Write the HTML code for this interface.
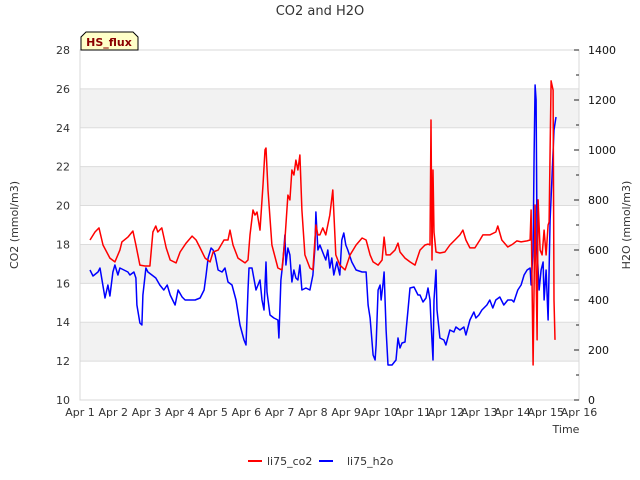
<!DOCTYPE html>
<html><head><meta charset="utf-8"><style>
body{margin:0;background:#fff;}
svg{display:block;font-family:"DejaVu Sans","Liberation Sans",sans-serif;}
</style></head><body>
<svg id="chart" width="640" height="480" xmlns="http://www.w3.org/2000/svg">
<g id="bands"></g>
<g id="grid"></g>
<rect x="80" y="50" width="499" height="350" fill="none" stroke="#d8d8d8" stroke-width="1"/>
<g id="series"></g>
<g id="axes"></g>
<text x="320" y="15" text-anchor="middle" font-size="13" fill="#333">CO2 and H2O</text>
<g>
<path d="M81,50 L81,37 L86,32 L133,32 L138,37 L138,50 Z" fill="#ffffc8" stroke="#000" stroke-width="1"/>
<text x="109" y="46" text-anchor="middle" font-size="11" font-weight="bold" fill="#8b0000">HS_flux</text>
</g>
<text transform="translate(18,225) rotate(-90)" text-anchor="middle" font-size="11" fill="#333">CO2 (mmol/m3)</text>
<text transform="translate(630,225) rotate(-90)" text-anchor="middle" font-size="11" fill="#333">H2O (mmol/m3)</text>
<text x="566" y="433" text-anchor="middle" font-size="11" fill="#333">Time</text>
<g>
<g><line x1="248" y1="461" x2="262" y2="461" stroke="#f00" stroke-width="2"/><text x="267" y="465" font-size="11" fill="#333">li75_co2</text></g>
<g><line x1="319" y1="461" x2="333" y2="461" stroke="#00f" stroke-width="2"/><text x="347" y="465" font-size="11" fill="#333">li75_h2o</text></g>
</g>
</svg>
<script>
const xTickLabels=["Apr 1","Apr 2","Apr 3","Apr 4","Apr 5","Apr 6","Apr 7","Apr 8","Apr 9","Apr 10","Apr 11","Apr 12","Apr 13","Apr 14","Apr 15","Apr 16"];
const leftTicks=[10,12,14,16,18,20,22,24,26,28];
const rightTicks=[0,200,400,600,800,1000,1200,1400];
const co2Time=[.30,.45,.57,.69,.90,1.05,1.20,1.26,1.44,1.59,1.68,1.80,1.95,2.10,2.19,2.28,2.34,2.46,2.59,2.71,2.89,3.01,3.19,3.37,3.49,3.61,3.76,3.91,4.00,4.15,4.33,4.45,4.51,4.60,4.75,4.96,5.05,5.11,5.20,5.26,5.32,5.41,5.50,5.56,5.59,5.65,5.77,5.95,6.07,6.16,6.25,6.31,6.37,6.43,6.49,6.55,6.61,6.67,6.76,6.91,7.00,7.09,7.15,7.21,7.30,7.39,7.51,7.60,7.69,7.81,7.97,8.12,8.30,8.48,8.60,8.72,8.81,8.96,9.08,9.14,9.20,9.32,9.47,9.56,9.62,9.77,9.92,10.07,10.22,10.37,10.46,10.52,10.55,10.58,10.61,10.64,10.70,10.82,10.97,11.12,11.27,11.42,11.51,11.60,11.72,11.87,12.02,12.11,12.32,12.50,12.56,12.68,12.86,13.01,13.13,13.26,13.44,13.53,13.56,13.62,13.68,13.74,13.77,13.83,13.89,13.95,14.01,14.07,14.10,14.13,14.16,14.22,14.25,14.28];
const co2Values=[18.23,18.64,18.85,17.97,17.30,17.10,17.71,18.13,18.38,18.69,17.97,16.94,16.89,16.89,18.64,18.95,18.64,18.85,17.82,17.20,17.05,17.61,18.07,18.43,18.23,17.82,17.30,17.10,17.61,17.71,18.23,18.23,18.74,17.97,17.30,17.05,17.20,18.49,19.77,19.51,19.67,18.74,21.06,22.86,22.96,20.80,17.97,16.79,16.69,18.23,20.54,20.29,21.83,21.57,22.34,21.83,22.60,19.77,17.46,16.79,16.69,19.00,18.49,18.49,18.85,18.49,19.51,20.80,17.46,16.94,16.69,17.46,17.97,18.33,18.23,17.46,17.10,16.94,17.20,18.38,17.46,17.46,17.71,18.07,17.61,17.30,17.10,16.94,17.71,17.97,18.02,17.97,24.40,17.20,21.83,18.64,17.61,17.56,17.61,17.97,18.23,18.49,18.74,18.23,17.82,17.82,18.23,18.49,18.49,18.64,18.95,18.23,17.87,18.02,18.18,18.13,18.18,18.23,19.77,11.80,20.03,13.09,20.29,17.71,17.46,18.74,17.46,19.00,19.15,22.86,26.41,25.94,15.14,13.09];
const h2oTime=[.30,.39,.54,.60,.66,.75,.84,.90,.99,1.05,1.14,1.20,1.32,1.44,1.50,1.62,1.68,1.71,1.80,1.86,1.89,1.98,2.04,2.16,2.28,2.40,2.52,2.62,2.71,2.86,2.95,3.07,3.16,3.31,3.46,3.61,3.73,3.79,3.85,3.94,4.00,4.06,4.15,4.27,4.36,4.45,4.57,4.69,4.81,4.93,4.99,5.05,5.08,5.17,5.29,5.41,5.47,5.53,5.59,5.62,5.71,5.83,5.95,5.98,6.04,6.10,6.16,6.19,6.25,6.31,6.37,6.43,6.49,6.55,6.61,6.67,6.79,6.91,7.00,7.06,7.09,7.15,7.21,7.33,7.39,7.45,7.51,7.57,7.63,7.72,7.81,7.87,7.93,7.99,8.05,8.17,8.30,8.48,8.60,8.66,8.72,8.81,8.87,8.90,8.96,9.02,9.05,9.11,9.14,9.20,9.26,9.38,9.50,9.56,9.62,9.68,9.77,9.86,9.92,10.04,10.16,10.22,10.31,10.40,10.46,10.52,10.55,10.61,10.64,10.70,10.73,10.82,10.94,11.00,11.12,11.24,11.30,11.42,11.54,11.60,11.72,11.84,11.90,11.99,12.08,12.23,12.32,12.41,12.50,12.62,12.74,12.86,12.98,13.04,13.16,13.26,13.35,13.44,13.53,13.56,13.62,13.65,13.68,13.71,13.74,13.80,13.86,13.92,13.95,14.01,14.07,14.13,14.19,14.25,14.31];
const h2oValues=[520,496,512,528,480,408,460,416,512,540,500,528,520,512,500,512,488,380,308,300,420,528,512,500,488,460,440,460,420,380,440,412,400,400,400,408,440,500,568,608,600,580,520,512,528,472,460,400,300,240,220,440,528,528,440,480,400,360,552,432,340,328,320,248,480,552,660,540,608,580,472,520,488,480,540,440,448,440,500,608,752,600,620,580,560,600,528,568,500,552,500,640,668,620,600,552,520,512,512,380,328,180,160,220,440,460,400,468,512,280,140,140,160,248,208,228,232,360,448,452,420,420,392,408,448,400,312,160,400,520,360,248,240,220,280,272,292,280,292,260,320,352,328,340,360,380,400,368,400,412,380,400,400,392,440,460,500,520,528,460,600,980,1260,1200,600,440,520,552,400,520,320,720,900,1080,1132];

const NS="http://www.w3.org/2000/svg";
const X0=80,X1=579,Y0=400,Y1=50;
function xScale(d){return X0+(X1-X0)*d/15;}
function yLeft(v){return Y0-(Y0-Y1)*(v-10)/18;}
function yRight(v){return Y0-(Y0-Y1)*v/1400;}
function mk(tag,attrs,parent){const e=document.createElementNS(NS,tag);for(const k in attrs)e.setAttribute(k,attrs[k]);parent.appendChild(e);return e;}
const bands=document.getElementById('bands'),grid=document.getElementById('grid'),axes=document.getElementById('axes'),series=document.getElementById('series');
for(let i=0;i<leftTicks.length-1;i++){
  if(i%2===1){
    const r=mk('rect',{x:X0,y:yLeft(leftTicks[i+1]),width:X1-X0,height:yLeft(leftTicks[i])-yLeft(leftTicks[i+1]),fill:'#f2f2f2'},bands);
    
    
  }
}
leftTicks.forEach(v=>{
  const l=mk('line',{x1:X0,x2:X1,y1:yLeft(v),y2:yLeft(v),stroke:'#dcdcdc','stroke-width':1},grid);
  
  
  const t=mk('text',{x:70,y:yLeft(v)+4,'text-anchor':'end','font-size':11,fill:'#333'},axes);
  t.textContent=v;
  
  
});
for(let v=0;v<=1400;v+=100){
  const major=v%200===0;
  const tk=mk('line',{x1:X1-(major?5:3),x2:X1,y1:yRight(v),y2:yRight(v),stroke:'#222','stroke-width':1},axes);
  
  
}
rightTicks.forEach(v=>{
  const t=mk('text',{x:588,y:yRight(v)+4,'font-size':11,fill:'#111'},axes);
  t.textContent=v;
  
  
});
xTickLabels.forEach((s,i)=>{
  const t=mk('text',{x:xScale(i),y:416,'text-anchor':'middle','font-size':11,fill:'#333'},axes);
  t.textContent=s;
  
  
});
function path(ts,vs,yf){return ts.map((t,i)=>(i?'L':'M')+xScale(t).toFixed(1)+','+yf(vs[i]).toFixed(1)).join(' ');}
const pb=mk('path',{d:path(h2oTime,h2oValues,yRight),fill:'none',stroke:'#00f','stroke-width':1.5,'stroke-linejoin':'round'},series);


const pr=mk('path',{d:path(co2Time,co2Values,yLeft),fill:'none',stroke:'#f00','stroke-width':1.5,'stroke-linejoin':'round'},series);


</script>
</body></html>
